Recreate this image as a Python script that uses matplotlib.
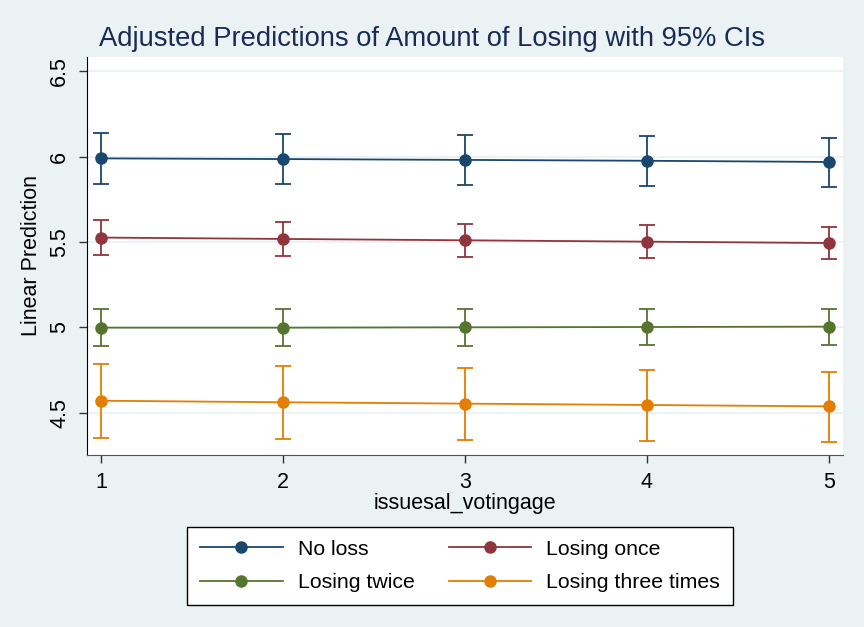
import numpy as np
import matplotlib.pyplot as plt
from matplotlib.lines import Line2D

plt.rcParams['font.family'] = ['Liberation Sans', 'DejaVu Sans']

# values
levels = [1, 2, 3, 4, 5]
series_names = ["No loss", "Losing once", "Losing twice", "Losing three times"]
no_loss = [5.990, 5.986, 5.981, 5.976, 5.969]
no_loss_lo = [5.842, 5.838, 5.833, 5.828, 5.824]
no_loss_hi = [6.141, 6.135, 6.128, 6.119, 6.109]
once = [5.526, 5.518, 5.510, 5.502, 5.494]
once_lo = [5.424, 5.418, 5.412, 5.406, 5.398]
once_hi = [5.629, 5.617, 5.607, 5.598, 5.590]
twice = [4.998, 4.998, 5.000, 5.002, 5.004]
twice_lo = [4.891, 4.892, 4.893, 4.894, 4.894]
twice_hi = [5.108, 5.108, 5.108, 5.108, 5.108]
three = [4.570, 4.561, 4.553, 4.545, 4.537]
three_lo = [4.352, 4.346, 4.340, 4.334, 4.328]
three_hi = [4.785, 4.773, 4.762, 4.752, 4.740]
yticks = [4.5, 5, 5.5, 6, 6.5]
ytick_labels = ["4.5", "5", "5.5", "6", "6.5"]

colors = ["#1A476F", "#90353B", "#55752F", "#E37E00"]
bg = "#EAF2F3"

fig = plt.figure(figsize=(8.64, 6.27), dpi=100, facecolor=bg)
ax = fig.add_axes([87 / 864, 1 - 455 / 627, (843 - 87) / 864, (455 - 57) / 627])
ax.set_facecolor("white")

data = [(no_loss, no_loss_lo, no_loss_hi), (once, once_lo, once_hi),
        (twice, twice_lo, twice_hi), (three, three_lo, three_hi)]
x = np.array(levels)
for (m, lo, hi), c in zip(data, colors):
    m = np.array(m)
    yerr = [m - np.array(lo), np.array(hi) - m]
    ax.errorbar(x, m, yerr=yerr, fmt='none', ecolor=c, elinewidth=1.3,
                capsize=5.5, capthick=1.3, zorder=3)
    ax.plot(x, m, '-o', color=c, lw=1.3, markersize=8, zorder=4)

ax.set_xlim(0.923, 5.077)
ax.set_ylim(4.252, 6.584)
ax.set_xticks(levels)
ax.set_yticks(yticks)
ax.set_yticklabels(ytick_labels, rotation=90, va='center')
ax.grid(axis='y', color=bg, lw=1.3, zorder=0)
ax.set_axisbelow(True)
for s in ['top', 'right']:
    ax.spines[s].set_visible(False)
ax.spines['left'].set_color('black')
ax.spines['bottom'].set_color('#555555')
ax.tick_params(axis='both', length=6, width=1, color='#333333', labelsize=15.5, pad=6)
ax.set_xlabel("issuesal_votingage", fontsize=15.5, labelpad=0)
ax.set_ylabel("Linear Prediction", fontsize=15.5, labelpad=5)

fig.suptitle("Adjusted Predictions of Amount of Losing with 95% CIs",
             x=0.5, y=1 - 26 / 627, fontsize=19.7, color="#1A2B55", va='top')

# legend is filled column by column, so order handles to read row-wise
order = [0, 2, 1, 3]
handles = [Line2D([0], [0], color=colors[i], lw=1.3, marker='o', markersize=8) for i in order]
labels = [series_names[i] for i in order]
leg = fig.legend(handles, labels, ncol=2, loc='center',
                 bbox_to_anchor=(460 / 864, 1 - 566 / 627), fontsize=15.3,
                 frameon=True, fancybox=False, edgecolor='black', facecolor='white',
                 framealpha=1, numpoints=1, handlelength=3.9, columnspacing=1.6,
                 handletextpad=0.7, borderpad=0.6, labelspacing=0.68)
leg.get_frame().set_linewidth(1)

fig.savefig("out.png", dpi=100, facecolor=bg)
